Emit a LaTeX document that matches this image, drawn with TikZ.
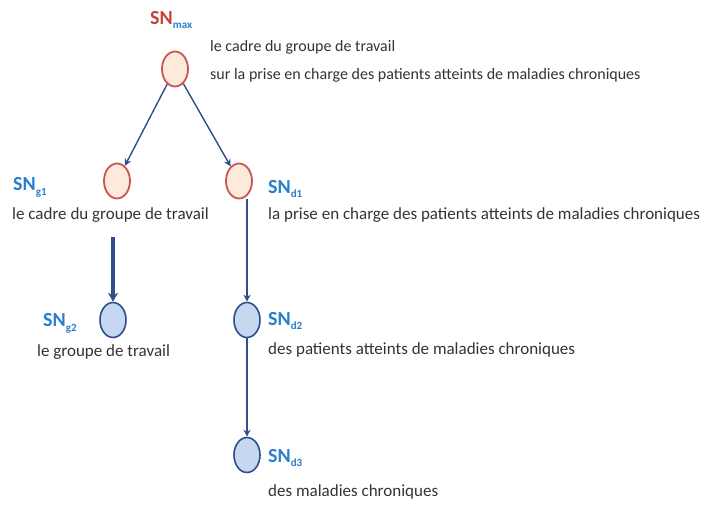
\documentclass[tikz,border=0pt]{standalone}
\usepackage{fontspec}
\setmainfont{Carlito}
\usetikzlibrary{arrows.meta,shapes.geometric}
\definecolor{snblue}{HTML}{2A7FCC}
\definecolor{snred}{HTML}{C8403C}
\definecolor{lineblue}{HTML}{2E4F8C}
\definecolor{peachfill}{HTML}{FDEADB}
\definecolor{peachdraw}{HTML}{CC5450}
\definecolor{bluefill}{HTML}{C6D8F0}
\definecolor{bluedraw}{HTML}{2E4F8C}
\definecolor{txtgray}{HTML}{333333}
\newcommand{\snsub}[1]{\raisebox{-0.5ex}{\fontsize{11}{11}\selectfont #1}}
\tikzset{
  topnode/.style={ellipse, draw=peachdraw, fill=peachfill, line width=1.8pt, minimum width=26pt, minimum height=35pt, inner sep=0pt},
  lownode/.style={ellipse, draw=bluedraw, fill=bluefill, line width=1.6pt, minimum width=26pt, minimum height=35pt, inner sep=0pt},
  lab/.style={anchor=west, inner sep=0pt, text=snblue, font=\fontsize{20}{20}\selectfont\bfseries},
  desc/.style={anchor=west, inner sep=0pt, text=txtgray, font=\fontsize{17}{17}\selectfont},
  descmax/.style={desc, font=\fontsize{16}{16}\selectfont},
  conn/.style={draw=lineblue, line width=1.4pt, -{Stealth[length=7pt,width=7pt]}},
  thickconn/.style={draw=lineblue, line width=3.5pt, -{Stealth[length=9pt,width=10pt]}}
}
\begin{document}
\begin{tikzpicture}[x=1pt,y=-1pt]
\useasboundingbox (0,0) rectangle (704,504);
% nodes
\node[topnode] (max) at (175,69) {};
\node[topnode] (g1) at (117,181) {};
\node[topnode] (d1) at (239,181) {};
\node[lownode] (g2) at (113,320) {};
\node[lownode] (d2) at (247,320) {};
\node[lownode] (d3) at (247,455) {};
% labels
\node[lab] (lmax) at (150,20) {\textcolor{snred}{SN}\snsub{max}};
\node[lab] (lg1) at (13,187) {SN\snsub{g1}};
\node[lab] (ld1) at (268,189) {SN\snsub{d1}};
\node[lab] (lg2) at (43,323) {SN\snsub{g2}};
\node[lab] (ld2) at (268,321) {SN\snsub{d2}};
\node[lab] (ld3) at (268,458) {SN\snsub{d3}};
% texts
\node[descmax] (tmax1) at (210,47) {le cadre du groupe de travail};
\node[descmax] (tmax2) at (210,75) {sur la prise en charge des patients atteints de maladies chroniques};
\node[desc] (tg1) at (12,215) {le cadre du groupe de travail};
\node[desc] (td1) at (268,215) {la prise en charge des patients atteints de maladies chroniques};
\node[desc] (tg2) at (37,352) {le groupe de travail};
\node[desc] (td2) at (268,350) {des patients atteints de maladies chroniques};
\node[desc] (td3) at (268,492) {des maladies chroniques};
% connectors
\coordinate (g1start) at (113,237);
\draw[conn] (max) -- (g1);
\draw[conn] (max) -- (d1);
\draw[thickconn] (g1start) -- (g2);
\draw[conn] (d2 |- d1.south) -- (d2);
\draw[conn] (d2) -- (d3);
\end{tikzpicture}
\end{document}
